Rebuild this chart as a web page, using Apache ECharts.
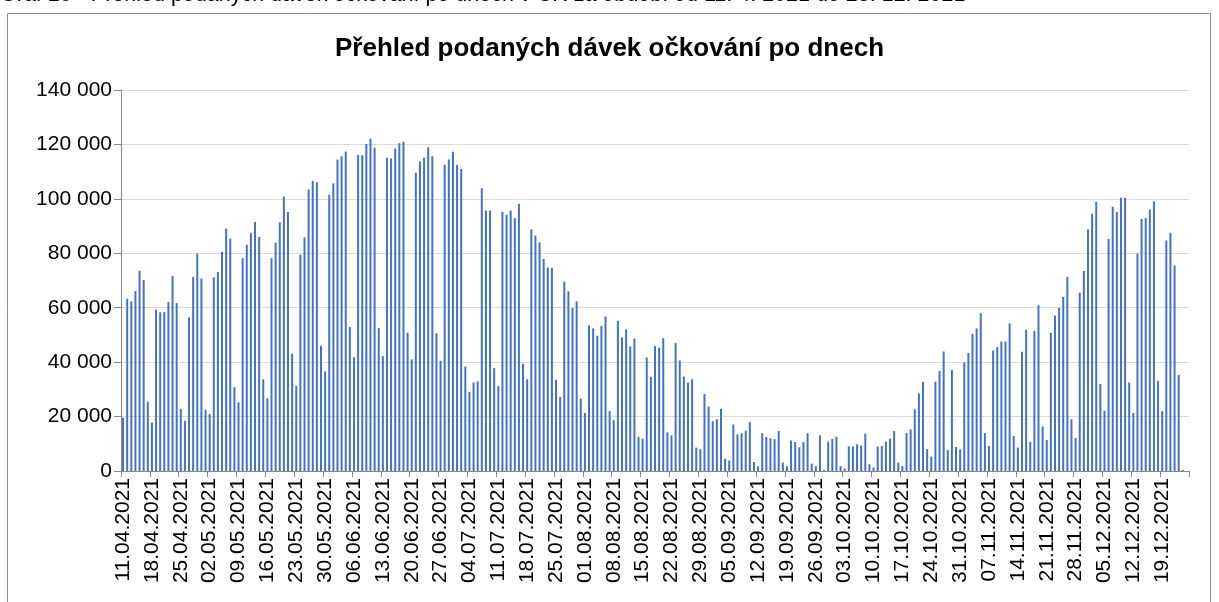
<!DOCTYPE html>
<html>
<head>
<meta charset="utf-8">
<title>Přehled podaných dávek očkování po dnech</title>
<script src="https://cdn.jsdelivr.net/npm/echarts@6/dist/echarts.min.js"></script>
<style>
html, body { margin: 0; padding: 0; background: #fff; }
#main { width: 1219px; height: 602px; }
</style>
</head>
<body>
<div id="main"></div>
<script>
// podané dávky po dnech, od 11.04.2021 (neděle) do 25.12.2021
var duben = [19600, 63300, 62300, 66100, 73600, 70200, 25500, 17800, 59300, 58300,
	58400, 62100, 71700, 61700, 22800, 18400, 56400, 71300, 79900, 70700];
var kveten = [22500, 20900, 71200, 73100, 80500, 89100, 85400, 30800, 25200, 78200,
	83100, 87400, 91500, 86000, 33700, 26700, 78200, 83900, 91400, 100900,
	95200, 43100, 31300, 79500, 85800, 103400, 106600, 106100, 46000, 36600, 101500];
var cerven = [105600, 114500, 115700, 117400, 52900, 41800, 116200, 116000, 120200, 122100,
	118800, 52500, 42200, 115100, 114800, 118500, 120400, 121000, 50800, 41000,
	109600, 113700, 115200, 119000, 115700, 50600, 40500, 112500, 114500, 117300];
var cervenec = [112400, 111000, 38400, 29100, 32500, 32900, 103900, 95700, 95700, 37800,
	31200, 95300, 94200, 95700, 92900, 98200, 39400, 33700, 88800, 86500,
	84000, 77900, 74800, 74700, 33500, 27200, 69600, 66000, 59900, 62300, 26600];
var srpen = [21300, 53500, 52400, 49700, 53300, 56800, 22000, 18700, 55200, 49100,
	52100, 45800, 48700, 12500, 11900, 41700, 34500, 45900, 45300, 48800,
	14200, 13100, 47000, 40600, 34700, 32500, 33700, 8600, 8000, 28300, 23700];
var zari = [18300, 19000, 22900, 4500, 3900, 17100, 13500, 13900, 14800, 18000,
	3300, 1700, 13900, 12500, 12000, 11700, 14700, 3100, 1700, 11200,
	10700, 8700, 10700, 13900, 2700, 1700, 13100, 400, 10800, 11800];
var rijen = [12600, 1800, 900, 9100, 9000, 9800, 9400, 13700, 2500, 1300,
	9000, 9200, 10800, 11900, 14700, 3100, 1800, 14000, 15300, 22700,
	28500, 32800, 8000, 5300, 32800, 36800, 43900, 7700, 37100, 8800, 7900];
var listopad = [39900, 43400, 50400, 52400, 58000, 13900, 9200, 44300, 45500, 47600,
	47600, 54200, 12900, 8600, 43800, 51900, 10700, 51500, 60900, 16400,
	11400, 50700, 57100, 60000, 64000, 71400, 19000, 12100, 65500, 73500];
var prosinec = [88800, 94500, 98900, 32000, 22100, 85300, 97100, 95200, 100400, 100400,
	32500, 21300, 79900, 92600, 93000, 96100, 99100, 33100, 22000, 84700,
	87500, 75500, 35300, 400, 0];

var hodnoty = duben.concat(kveten, cerven, cervenec, srpen, zari, rijen, listopad, prosinec);

// popisky dnů dd.mm.rrrr
function dvema(n) { return (n < 10 ? '0' : '') + n; }
var dny = [];
var den = new Date(2021, 3, 11);
for (var i = 0; i < hodnoty.length; i++) {
	dny.push(dvema(den.getDate()) + '.' + dvema(den.getMonth() + 1) + '.' + den.getFullYear());
	den.setDate(den.getDate() + 1);
}

var pismo = 'Liberation Sans, Arial, sans-serif';
var sedaOsa = '#868686';

var myChart = echarts.init(document.getElementById('main'));
var option = {
	animation: false,
	backgroundColor: '#fff',
	title: {
		text: 'Přehled podaných dávek očkování po dnech',
		left: 'center',
		top: 31,
		textStyle: { fontFamily: pismo, fontSize: 26, fontWeight: 'bold', color: '#000' }
	},
	graphic: [
		{
			type: 'text',
			left: 0,
			top: -16,
			style: {
				text: 'Graf 10 - Přehled podaných dávek očkování po dnech v ČR za období od 11. 4. 2021 do 23. 12. 2021',
				font: '21.5px Liberation Sans, Arial, sans-serif',
				fill: '#000'
			}
		},
		{
			type: 'rect',
			shape: { x: 7.5, y: 13.5, width: 1203, height: 700 },
			style: { fill: 'none', stroke: '#8c8c8c', lineWidth: 1 },
			silent: true
		}
	],
	grid: { left: 121, right: 30, top: 90, bottom: 131, containLabel: false },
	xAxis: {
		type: 'category',
		data: dny,
		boundaryGap: true,
		axisLine: { lineStyle: { color: sedaOsa, width: 1 } },
		axisTick: { show: true, interval: 6, length: 6, lineStyle: { color: sedaOsa } },
		axisLabel: {
			interval: 6,
			rotate: 90,
			margin: 7,
			color: '#000',
			fontFamily: pismo,
			fontSize: 21
		},
		splitLine: { show: false }
	},
	yAxis: {
		type: 'value',
		min: 0,
		max: 140000,
		interval: 20000,
		axisLine: { show: true, lineStyle: { color: sedaOsa, width: 1 } },
		axisTick: { show: true, length: 7, lineStyle: { color: sedaOsa } },
		axisLabel: {
			margin: 9,
			color: '#000',
			fontFamily: pismo,
			fontSize: 21,
			formatter: function (v) {
				return String(v).replace(/\B(?=(\d{3})+(?!\d))/g, ' ');
			}
		},
		splitLine: { lineStyle: { color: '#d9d9d9', width: 1 } }
	},
	series: [{
		name: 'Podané dávky',
		type: 'bar',
		data: hodnoty,
		barWidth: 2,
		itemStyle: { color: '#4472c4' }
	}]
};
myChart.setOption(option);
</script>
</body>
</html>
